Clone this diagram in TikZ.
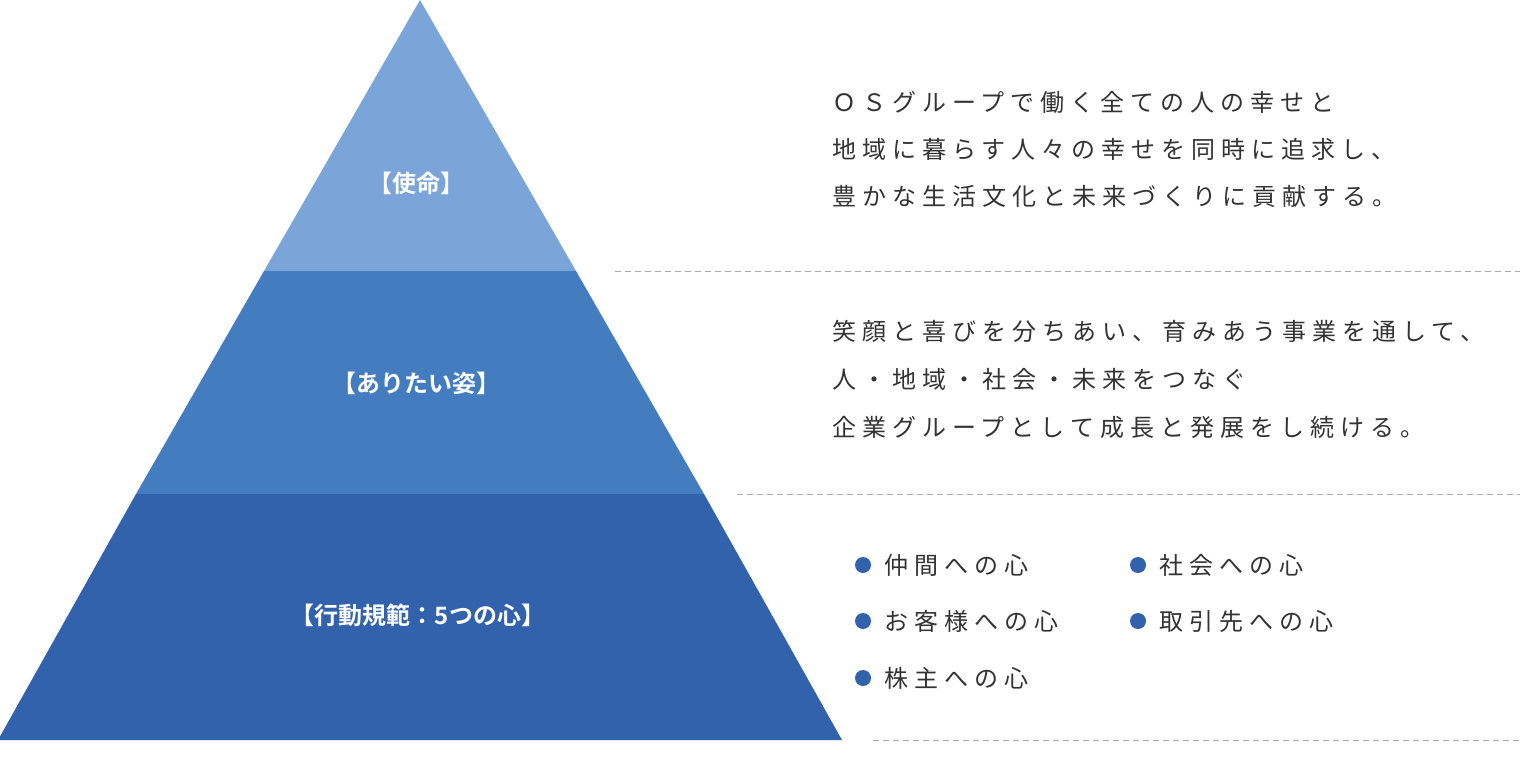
\documentclass[tikz,border=0pt]{standalone}
\usepackage{fontspec}
\setmainfont{Noto Sans CJK JP}[LetterSpace=25]
\newfontfamily\jpbold{Noto Sans CJK JP Bold}
\definecolor{topc}{HTML}{7BA5D8}
\definecolor{midc}{HTML}{447CC0}
\definecolor{botc}{HTML}{3262AC}
\definecolor{txt}{HTML}{333333}
\definecolor{dash}{HTML}{AAAAAA}
\begin{document}
\begin{tikzpicture}[x=1pt,y=-1pt,
  lab/.style={text=white,font=\jpbold\fontsize{24}{28}\selectfont},
  body/.style={text=txt,anchor=west,font=\fontsize{24}{28}\selectfont,inner sep=0},
  sep/.style={draw=dash,dashed,dash pattern=on 6pt off 4pt,line width=1pt},
  dot/.style={circle,fill=botc,minimum size=16pt,inner sep=0}]
\useasboundingbox (0,0) rectangle (1520,760);
\fill[topc] (420,0) -- (576,271) -- (264,271) -- cycle;
\fill[midc] (264,271) -- (576,271) -- (704,494) -- (136,494) -- cycle;
\fill[botc] (136,494) -- (704,494) -- (842,740) -- (-2,740) -- cycle;
\node[lab] (l1) at (416,183) {【使命】};
\node[lab] (l2) at (416,383) {【ありたい姿】};
\node[lab] (l3) at (418,615) {【行動規範：5つの心】};
\coordinate (s1a) at (615,271); \coordinate (s1b) at (1520,271);
\coordinate (s2a) at (737,494); \coordinate (s2b) at (1520,494);
\coordinate (s3a) at (873,740); \coordinate (s3b) at (1520,740);
\draw[sep] (s1a) -- (s1b);
\draw[sep] (s2a) -- (s2b);
\draw[sep] (s3a) -- (s3b);
\node[body] (t1) at (832,102) {ＯＳグループで働く全ての人の幸せと};
\node[body] (t2) at (832,149) {地域に暮らす人々の幸せを同時に追求し、};
\node[body] (t3) at (832,196) {豊かな生活文化と未来づくりに貢献する。};
\node[body] (t4) at (832,331) {笑顔と喜びを分ちあい、育みあう事業を通して、};
\node[body] (t5) at (832,379) {人・地域・社会・未来をつなぐ};
\node[body] (t6) at (832,427) {企業グループとして成長と発展をし続ける。};
\node[dot] (d1) at (863,565) {}; \node[body] (b1) at (884,565) {仲間への心};
\node[dot] (d2) at (863,621) {}; \node[body] (b2) at (884,621) {お客様への心};
\node[dot] (d3) at (863,678) {}; \node[body] (b3) at (884,678) {株主への心};
\node[dot] (d4) at (1138,565) {}; \node[body] (b4) at (1159,565) {社会への心};
\node[dot] (d5) at (1138,621) {}; \node[body] (b5) at (1159,621) {取引先への心};
\end{tikzpicture}
\end{document}
